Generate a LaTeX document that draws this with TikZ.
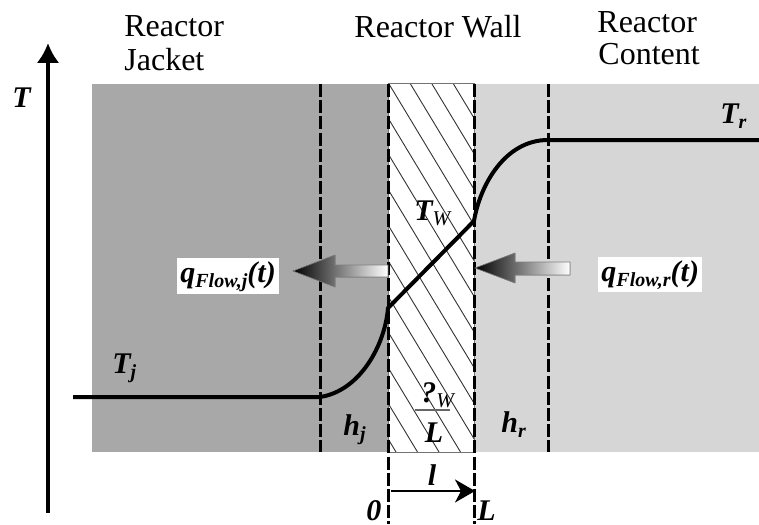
\documentclass[tikz,border=0pt]{standalone}
\usepackage{fontspec}
\setmainfont{Liberation Serif}
\usetikzlibrary{arrows.meta}
\newcommand\bisz[1]{\fontsize{#1}{#1}\selectfont\bfseries\itshape}
\newcommand\mysub[1]{\raisebox{-2.5pt}{\fontsize{10}{10}\selectfont\bfseries\itshape #1}}
\newcommand\mysubit[1]{\raisebox{-2.5pt}{\fontsize{10.5}{10.5}\selectfont\mdseries\itshape #1}}
\tikzset{
  divider/.style={line width=1.5pt, dash pattern=on 6.5pt off 1.6pt},
  profile/.style={line width=2pt, line join=round},
  hatchline/.style={black!80, line width=0.45pt},
  lbl/.style={inner sep=0pt, font=\fontsize{16}{17}\selectfont},
  sym/.style={inner sep=0pt, font=\bisz{15}},
  flowarrow/.style={left color=black, middle color=black!55, right color=white},
  flowedge/.style={draw=black!50, line width=0.3pt},
}
\begin{document}
\begin{tikzpicture}[x=0.5pt,y=-0.5pt]
\useasboundingbox (0,0) rectangle (759,524);
% regions
\fill[black!34] (92,84) rectangle (388,452);
\fill[black!16] (474,84) rectangle (759,452);
\fill[white] (388,84) rectangle (474,452);
\begin{scope}
  \clip (388,84) rectangle (474,452);
  \foreach \k in {-11,...,4} \draw[hatchline] (389+21.5*\k,84) -- ++(222,368);
\end{scope}
\draw[black!55, line width=0.5pt] (388,84) rectangle (474,452);
% dashed boundaries
\draw[divider] (320,84) -- (320,452);
\draw[divider] (388,84) -- (388,524);
\draw[divider] (474,84) -- (474,524);
\draw[divider] (548,84) -- (548,452);
% temperature profile
\draw[profile] (73,397) -- (320,397) .. controls (360,391) and (385,345) .. (388,308)
  -- (474,221) .. controls (480,185) and (505,140) .. (548,140) -- (759,140);
% axis
\coordinate (axB) at (48,513);
\coordinate (axT) at (48,43);
\draw[line width=2pt, -{Latex[length=10pt,width=11.5pt]}] (axB) -- (axT);
% length arrow
\coordinate (l0) at (391,491);
\coordinate (l1) at (475,491);
\draw[line width=1pt, -{Stealth[length=10pt,width=11.5pt,inset=3pt]}] (l0) -- (l1);
% heat-flow arrows
\fill[flowarrow] (293,271) -- (335,255) -- (335,265) -- (388,265) -- (388,277) -- (335,277) -- (335,287) -- cycle;
\fill[flowarrow] (475,268) -- (515,253) -- (515,262) -- (570,262) -- (570,275) -- (515,275) -- (515,283) -- cycle;
\draw[flowedge] (293,271) -- (335,255) -- (335,265) -- (388,265) -- (388,277) -- (335,277) -- (335,287) -- cycle;
\draw[flowedge] (475,268) -- (515,253) -- (515,262) -- (570,262) -- (570,275) -- (515,275) -- (515,283) -- cycle;
% headings
\node[lbl, anchor=base west] (jk1) at (124,37) {Reactor};
\node[lbl, anchor=base west] (jk2) at (124,71) {Jacket};
\node[lbl, anchor=base] (wall) at (438,38) {Reactor Wall};
\node[lbl, anchor=base west] (ct1) at (597,33) {Reactor};
\node[lbl, anchor=base west] (ct2) at (598,65) {Content};
% symbols
\node[sym, anchor=base west] (T) at (12,107) {T};
\node[sym, anchor=base west] (Tj) at (112,373) {T\mysub{j}};
\node[sym, anchor=base west] (Tr) at (720,123) {T\mysub{r}};
\node[sym, anchor=base west] (TW) at (414,220) {T\mysubit{W}};
\node[sym, anchor=base west, fill=white, inner sep=1.5pt] (qj) at (177,282) {q\mysub{Flow,j}(t)};
\node[sym, anchor=base west, fill=white, inner sep=1.5pt] (qr) at (598,281) {q\mysub{Flow,r}(t)};
\node[sym, anchor=base west] (hj) at (343,435) {h\mysub{j}};
\node[sym, anchor=base west] (hr) at (501,432) {h\mysub{r}};
\node[sym, anchor=base west] (lam) at (421,402) {?\mysubit{W}};
\draw[black!60, line width=1pt] (415,410) -- (450,410);
\node[sym, anchor=base] (Lf) at (434,442) {L};
\node[sym, anchor=base] (ll) at (432,485) {l};
\node[sym, anchor=base west] (z0) at (366,520) {0};
\node[sym, anchor=base west] (LL) at (477,520) {L};
\end{tikzpicture}
\end{document}
